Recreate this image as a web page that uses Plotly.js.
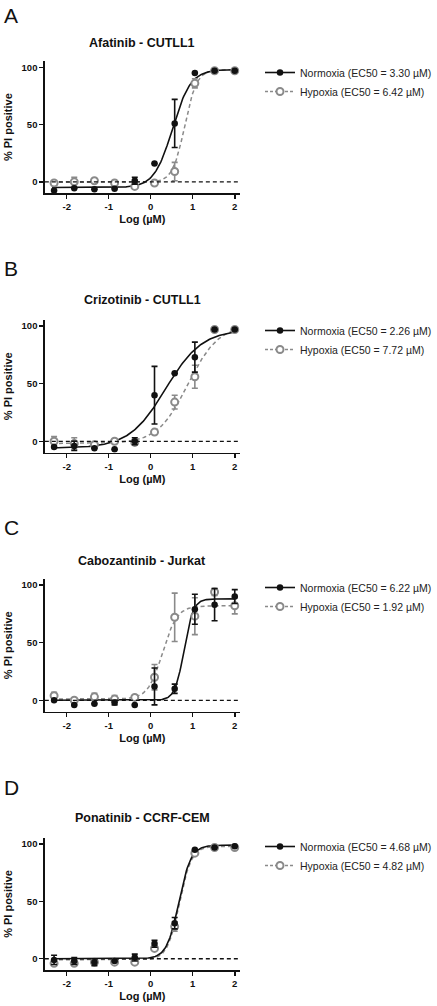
<!DOCTYPE html>
<html>
<head>
<meta charset="utf-8">
<script src="https://cdn.plot.ly/plotly-3.0.1.min.js"></script>
<style>html,body{margin:0;padding:0;background:#fff;}#chart{width:437px;height:1006px;}</style>
</head>
<body>
<div id="chart"></div>
<script>
// Concentrations (log10 µM), 3-fold dilution series
const logConc = [-2.3, -1.82, -1.34, -0.86, -0.38, 0.09, 0.57, 1.05, 1.52, 2.0];

const panelLetters = ["A", "B", "C", "D"];
const panelTitles = ["Afatinib - CUTLL1", "Crizotinib - CUTLL1", "Cabozantinib - Jurkat", "Ponatinib - CCRF-CEM"];
const normoxiaLabels = ["Normoxia (EC50 = 3.30 µM)", "Normoxia (EC50 = 2.26 µM)", "Normoxia (EC50 = 6.22 µM)", "Normoxia (EC50 = 4.68 µM)"];
const hypoxiaLabels = ["Hypoxia (EC50 = 6.42 µM)", "Hypoxia (EC50 = 7.72 µM)", "Hypoxia (EC50 = 1.92 µM)", "Hypoxia (EC50 = 4.82 µM)"];

// Mean % PI positive and error (SD)
const afatinibNormoxia    = [-7.5, -5.5, -6.5, -6, 1, 16, 51, 95, 97, 97];
const afatinibNormoxiaErr = [0, 0, 0, 0, 3, 0, 21, 0, 0, 0];
const afatinibHypoxia     = [-1, 0, 1, -1, -4, -1, 9, 86, 97, 97];
const afatinibHypoxiaErr  = [0, 4, 0, 0, 0, 0, 8, 4, 0, 0];

const crizotinibNormoxia    = [-5, -4, -6, -7, 0, 40, 59, 73, 97, 97];
const crizotinibNormoxiaErr = [0, 4, 0, 0, 3, 25, 0, 13, 0, 0];
const crizotinibHypoxia     = [0, -2, -3, 0, -1, 8, 34, 56, 97, 97];
const crizotinibHypoxiaErr  = [4, 5, 0, 0, 0, 0, 6, 10, 0, 0];

const cabozantinibNormoxia    = [0, -4, -3, -2, -4, 12, 10, 79, 83, 90];
const cabozantinibNormoxiaErr = [0, 0, 0, 2, 0, 16, 4, 13, 14, 6];
const cabozantinibHypoxia     = [4, 0, 3, 1, 2.5, 20, 72, 73, 94, 82];
const cabozantinibHypoxiaErr  = [3, 0, 3, 3, 0, 11, 21, 16, 3, 7];

const ponatinibNormoxia    = [-1, -2, -3, -2, 1, 13, 31, 95, 97, 98];
const ponatinibNormoxiaErr = [4, 3, 3, 0, 3, 3, 5, 0, 0, 0];
const ponatinibHypoxia     = [-4, -4, -3, -3, -3, 9, 28, 92, 97, 97];
const ponatinibHypoxiaErr  = [0, 0, 0, 0, 0, 0, 4, 0, 0, 0];

// 4-parameter logistic fit: [bottom, top, EC50 (µM), Hill slope]
const afatinibNormoxiaFit     = [-5, 98, 3.30, 2.0];
const afatinibHypoxiaFit      = [-0.5, 98, 6.42, 3.0];
const crizotinibNormoxiaFit   = [-6, 97, 2.26, 1.0];
const crizotinibHypoxiaFit    = [-2, 101, 7.72, 1.2];
const cabozantinibNormoxiaFit = [0, 88, 6.22, 4.0];
const cabozantinibHypoxiaFit  = [1, 82, 1.92, 2.5];
const ponatinibNormoxiaFit    = [0, 99, 4.68, 3.0];
const ponatinibHypoxiaFit     = [-1, 98, 4.82, 3.0];

const panels = [
  [afatinibNormoxia, afatinibNormoxiaErr, afatinibHypoxia, afatinibHypoxiaErr, afatinibNormoxiaFit, afatinibHypoxiaFit],
  [crizotinibNormoxia, crizotinibNormoxiaErr, crizotinibHypoxia, crizotinibHypoxiaErr, crizotinibNormoxiaFit, crizotinibHypoxiaFit],
  [cabozantinibNormoxia, cabozantinibNormoxiaErr, cabozantinibHypoxia, cabozantinibHypoxiaErr, cabozantinibNormoxiaFit, cabozantinibHypoxiaFit],
  [ponatinibNormoxia, ponatinibNormoxiaErr, ponatinibHypoxia, ponatinibHypoxiaErr, ponatinibNormoxiaFit, ponatinibHypoxiaFit]
];

const W = 437, H = 1006;
const plotLeft = 46, plotRight = 246;
// plot-area top/bottom pixel rows for each panel
const plotTops = [61, 319.7, 578.7, 837.7];
const plotBottoms = [193.3, 452.8, 711.8, 970.2];
const titleYs = [43, 300, 561, 818];
const letterYs = [15, 268, 527, 787];
const legendYs = [58, 316, 573, 832];

const BLACK = "#111111", GRAY = "#8a8a8a";
const FONT = "Arial, 'Liberation Sans', Helvetica, sans-serif";

function fourPL(p, x) {
  const logEC = Math.log10(p[2]);
  return p[0] + (p[1] - p[0]) / (1 + Math.pow(10, (logEC - x) * p[3]));
}
const curveX = [];
for (let i = 0; i <= 200; i++) curveX.push(-2.35 + i * (2.0 + 2.35) / 200);

const traces = [], layout = {
  width: W, height: H,
  margin: {l: 0, r: 0, t: 0, b: 0},
  paper_bgcolor: "#fff", plot_bgcolor: "#fff",
  font: {family: FONT, color: BLACK},
  showlegend: true,
  annotations: [], shapes: []
};

panels.forEach((p, i) => {
  const n = i + 1;
  const xa = "x" + (n === 1 ? "" : n), ya = "y" + (n === 1 ? "" : n);
  const xKey = "xaxis" + (n === 1 ? "" : n), yKey = "yaxis" + (n === 1 ? "" : n);
  const legKey = "legend" + (n === 1 ? "" : n);

  layout[xKey] = {
    domain: [plotLeft / W, plotRight / W],
    anchor: ya,
    range: [-2.52, 2.12],
    tickvals: [-2, -1, 0, 1, 2], ticktext: ["-2", "-1", "0", "1", "2"],
    ticks: "outside", ticklen: 4, tickwidth: 1.5, tickcolor: BLACK,
    showline: true, linecolor: BLACK, linewidth: 1.5,
    showgrid: false, zeroline: false,
    tickfont: {size: 9.5, family: FONT, color: BLACK, weight: "bold"},
    title: {text: "<b>Log (µM)</b>", font: {size: 11, family: FONT, color: BLACK}, standoff: 4}
  };
  layout[yKey] = {
    domain: [1 - plotBottoms[i] / H, 1 - plotTops[i] / H],
    anchor: xa,
    range: [-10, 105.5],
    tickvals: [0, 50, 100],
    ticks: "outside", ticklen: 4, tickwidth: 1.5, tickcolor: BLACK,
    showline: true, linecolor: BLACK, linewidth: 1.5,
    showgrid: false, zeroline: false,
    tickfont: {size: 9.5, family: FONT, color: BLACK, weight: "bold"},
    title: {text: "<b>% PI positive</b>", font: {size: 11, family: FONT, color: BLACK}, standoff: 6}
  };
  layout[legKey] = {
    x: 267 / W, xanchor: "left",
    y: 1 - legendYs[i] / H, yanchor: "top",
    bgcolor: "rgba(0,0,0,0)", borderwidth: 0,
    font: {size: 10.5, family: FONT, color: "#222"},
    tracegroupgap: 0, itemwidth: 30
  };

  // dashed zero line
  layout.shapes.push({type: "line", xref: xa, yref: ya, x0: -2.52, x1: 2.12, y0: 0, y1: 0,
    line: {color: BLACK, width: 1.3, dash: "4px,3px"}});

  // title and panel letter
  layout.annotations.push({text: "<b>" + panelTitles[i] + "</b>", xref: "paper", yref: "paper",
    x: (plotLeft + plotRight) / 2 / W, y: 1 - titleYs[i] / H, xanchor: "center", yanchor: "middle",
    showarrow: false, font: {size: 12.5, family: FONT, color: BLACK}});
  layout.annotations.push({text: panelLetters[i], xref: "paper", yref: "paper",
    x: 2 / W, y: 1 - letterYs[i] / H, xanchor: "left", yanchor: "middle",
    showarrow: false, font: {size: 21, family: FONT, color: BLACK}});

  const [nMean, nErr, hMean, hErr, nFit, hFit] = p;

  // fitted curves
  traces.push({x: curveX, y: curveX.map(x => fourPL(hFit, x)), xaxis: xa, yaxis: ya, mode: "lines",
    line: {color: GRAY, width: 1.5, dash: "4px,3px"}, showlegend: false, hoverinfo: "skip"});
  traces.push({x: curveX, y: curveX.map(x => fourPL(nFit, x)), xaxis: xa, yaxis: ya, mode: "lines",
    line: {color: BLACK, width: 1.6}, showlegend: false, hoverinfo: "skip"});

  // data points with error bars
  traces.push({x: logConc, y: hMean, xaxis: xa, yaxis: ya, mode: "markers",
    marker: {symbol: "circle", size: 7, color: "#ffffff", line: {color: GRAY, width: 2}},
    error_y: {type: "data", array: hErr, visible: true, color: GRAY, thickness: 1.6, width: 3},
    showlegend: false});
  traces.push({x: logConc, y: nMean, xaxis: xa, yaxis: ya, mode: "markers",
    marker: {symbol: "circle", size: 6.5, color: BLACK},
    error_y: {type: "data", array: nErr, visible: true, color: BLACK, thickness: 1.6, width: 3},
    showlegend: false});

  // legend entries
  traces.push({x: [null], y: [null], xaxis: xa, yaxis: ya, mode: "lines+markers", name: normoxiaLabels[i],
    legend: legKey, line: {color: BLACK, width: 1.6}, marker: {symbol: "circle", size: 6.5, color: BLACK}});
  traces.push({x: [null], y: [null], xaxis: xa, yaxis: ya, mode: "lines+markers", name: hypoxiaLabels[i],
    legend: legKey, line: {color: GRAY, width: 1.5, dash: "3px,2px"},
    marker: {symbol: "circle", size: 7, color: "#ffffff", line: {color: GRAY, width: 2}}});
});

Plotly.newPlot("chart", traces, layout, {staticPlot: true, displayModeBar: false});
</script>
</body>
</html>
